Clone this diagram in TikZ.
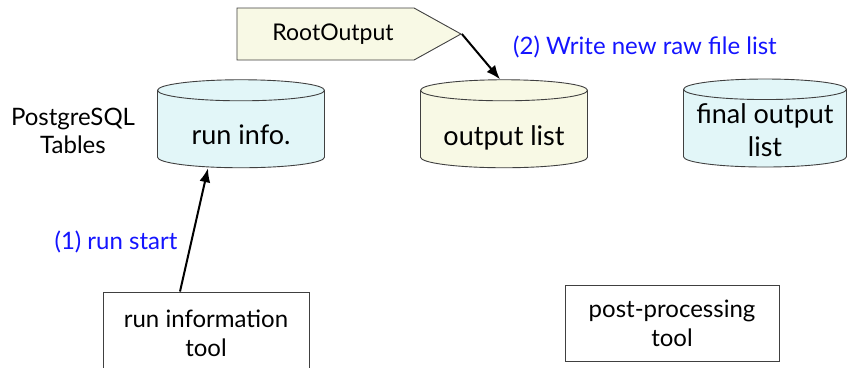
\documentclass[tikz,border=0pt]{standalone}
\usepackage{fontspec}
\setmainfont{Lato}
\usetikzlibrary{shapes.geometric,shapes.symbols,arrows.meta}

\definecolor{tabcyan}{HTML}{E2F6F8}
\definecolor{tabbeige}{HTML}{F8F9E5}
\definecolor{msgblue}{HTML}{1414FF}

\tikzset{
  dbtable/.style={cylinder, shape border rotate=90, aspect=0.126, draw=black!75,
    line width=0.9pt, minimum height=88pt, inner xsep=83.5pt, inner ysep=0pt},
  tabtext/.style={align=center, font=\fontsize{27}{33}\selectfont},
  toolbox/.style={draw=black!75, line width=0.9pt, align=center,
    font=\fontsize{24}{29}\selectfont},
  msg/.style={text=msgblue, font=\fontsize{24}{28}\selectfont},
  flow/.style={line width=2pt, -{Latex[length=14pt,width=11pt]}}
}

\begin{document}
\begin{tikzpicture}[x=1pt,y=-1pt]
\useasboundingbox (0,0) rectangle (850,367);
\clip (0,0) rectangle (850,367);

% tables
\node[font=\fontsize{24}{28}\selectfont, align=center] (pgsql) at (73,131) {PostgreSQL\\Tables};
\node[dbtable, fill=tabcyan] (runinfo) at (241,134.5) {\strut};
\node[tabtext] (runinfotxt) at (runinfo.center) {run info.};
\node[dbtable, fill=tabbeige] (outlist) at (504,134.5) {\strut};
\node[tabtext] (outlisttxt) at ([yshift=-3.5pt]outlist.center) {output list};
\node[dbtable, fill=tabcyan, inner xsep=81.5pt] (finallist) at (765,133.5) {\strut};
\node[tabtext] (finallisttxt) at ([yshift=3.5pt]finallist.center) {final output\\list};

% RootOutput
\node[signal, signal to=east, signal pointer angle=58, draw=black!75, line width=0.9pt,
  fill=tabbeige, minimum width=224pt, minimum height=52pt, inner sep=0pt,
  font=\fontsize{23}{27}\selectfont] (rootout) at (325.5,34) {\hspace*{15pt}RootOutput};

% tools
\node[toolbox, minimum width=206pt, minimum height=82pt] (runtool) at (206,333) {run information\\tool};
\node[toolbox, minimum width=214pt, minimum height=76pt] (posttool) at (672,323) {post-processing\\tool};

% arrows
\draw[flow] ([xshift=-26pt]runtool.north) -- ([xshift=-33pt]runinfo.south);
\draw[flow] (rootout.east) -- ([xshift=-4pt]outlist.north);

\node[msg] (runstart) at (116,242) {(1) run start};
\node[msg] (writelist) at (645,47) {(2) Write new raw file list};

\end{tikzpicture}
\end{document}
